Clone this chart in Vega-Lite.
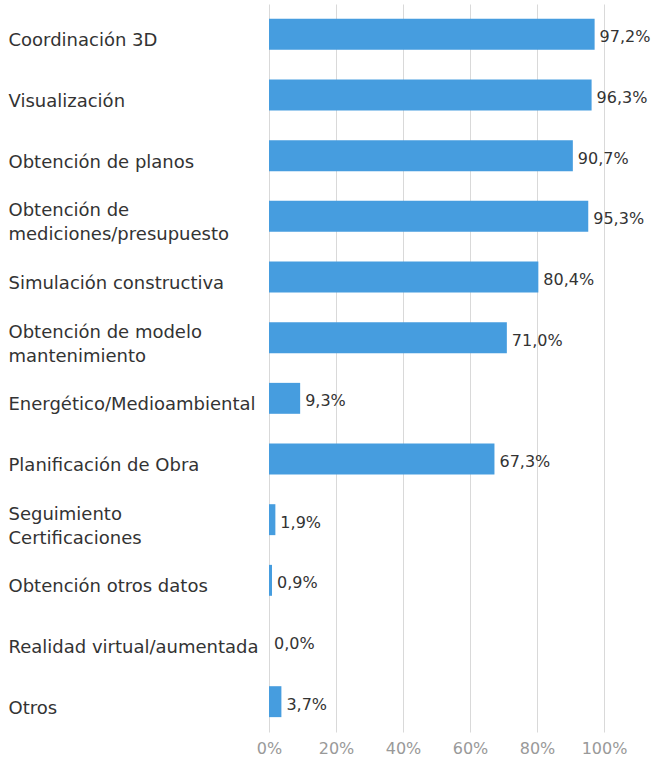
{
  "$schema": "https://vega.github.io/schema/vega-lite/v6.json",
  "width": 335,
  "height": 728,
  "padding": {"left": 8, "top": 4, "right": 0, "bottom": 0},
  "background": "white",
  "config": {
    "view": {"stroke": null},
    "font": "DejaVu Sans",
    "locale": {"number": {"decimal": ",", "thousands": ".", "grouping": [3], "currency": ["", " €"]}}
  },
  "data": {
    "values": [
      {"cat": "Coordinación 3D", "v": 0.972},
      {"cat": "Visualización", "v": 0.963},
      {"cat": "Obtención de planos", "v": 0.907},
      {"cat": "Obtención de|mediciones/presupuesto", "v": 0.953},
      {"cat": "Simulación constructiva", "v": 0.804},
      {"cat": "Obtención de modelo|mantenimiento", "v": 0.71},
      {"cat": "Energético/Medioambiental", "v": 0.093},
      {"cat": "Planificación de Obra", "v": 0.673},
      {"cat": "Seguimiento|Certificaciones", "v": 0.019},
      {"cat": "Obtención otros datos", "v": 0.009},
      {"cat": "Realidad virtual/aumentada", "v": 0.0},
      {"cat": "Otros", "v": 0.037}
    ]
  },
  "encoding": {
    "y": {
      "field": "cat", "type": "nominal", "sort": null, "title": null,
      "scale": {"paddingInner": 0.49, "paddingOuter": 0.245},
      "axis": {
        "labelExpr": "split(datum.label, '|')",
        "labelAlign": "left",
        "labelPadding": 261,
        "labelOffset": {"condition": {"test": "indexof(datum.label, '|') >= 0", "value": -5}, "value": 7},
        "labelLimit": 300,
        "labelFontSize": 18,
        "labelColor": "#333333",
        "labelLineHeight": 24,
        "ticks": false,
        "domain": false
      }
    },
    "x": {
      "field": "v", "type": "quantitative", "title": null,
      "scale": {"domain": [0, 1], "nice": false},
      "axis": {
        "format": ".0%",
        "values": [0, 0.2, 0.4, 0.6, 0.8, 1],
        "labelFontSize": 16,
        "labelColor": "#999999",
        "labelPadding": 8,
        "ticks": false,
        "domain": false,
        "gridColor": "#d9d9d9",
        "labelFlush": false
      }
    }
  },
  "layer": [
    {"mark": {"type": "bar", "color": "#469ddf"}},
    {
      "mark": {"type": "text", "align": "left", "baseline": "middle", "dx": 5, "dy": 3, "fontSize": 16, "color": "#333333"},
      "encoding": {"text": {"field": "v", "type": "quantitative", "format": ".1%"}}
    }
  ]
}
